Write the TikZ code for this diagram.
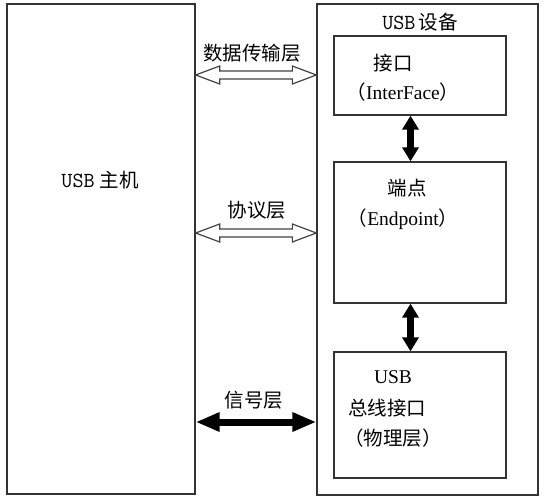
\documentclass[tikz,border=0pt]{standalone}
\usepackage{fontspec}
\setmainfont{Liberation Serif}
\newfontfamily\cjk{Noto Sans CJK SC}
\usetikzlibrary{arrows.meta, calc, positioning}

\tikzset{
  caja/.style={draw=black!80, line width=1.3pt, inner sep=0pt},
  texto/.style={font=\fontsize{19.5}{22}\selectfont, inner sep=1pt},
  flechasolida/.style={line width=7pt, {Triangle[length=24pt,width=18pt]}-{Triangle[length=24pt,width=18pt]}},
  flechavert/.style={line width=6.5pt, {Triangle[length=14pt,width=16pt]}-{Triangle[length=14pt,width=16pt]}},
  flechahueca/.style={draw=black!75, line width=1.2pt, line join=miter}
}
\newcommand{\usbtt}{{\ttfamily\fontsize{21.5}{22}\selectfont USB}}
% flecha hueca entre dos puntos (horizontal)
\newcommand{\flechahueca}[2]{%
  \draw[flechahueca] (#1) -- ++(24,-9) -- ++(0,5) -- ($(#2)+(-24,-4)$) -- ++(0,-5) -- (#2)
    -- ++(-24,9) -- ++(0,-5) -- ($(#1)+(24,4)$) -- ++(0,5) -- cycle;}

\begin{document}
\begin{tikzpicture}[x=1pt,y=-1pt]
        \useasboundingbox (0,0) rectangle (546,500);
        % Host
        \node[caja, minimum width=188pt, minimum height=490pt] (host) at (101,249) {};
        \node[texto] (hostlbl) at (100,180) {\usbtt\ {\cjk 主机}};
        % Dispositivo
        \node[caja, minimum width=221pt, minimum height=491pt] (dev) at (427.5,249.5) {};
        \node[texto] (devlbl) at (420,22) {\usbtt\,{\cjk 设备}};
        \node[caja, minimum width=172pt, minimum height=79pt] (ifc) at (420,75.5) {};
        \node[caja, minimum width=172pt, minimum height=141pt] (ept) at (420,232.5) {};
        \node[caja, minimum width=172pt, minimum height=126pt] (phy) at (420,415) {};
        % Textos de las cajas
        \node[texto] (ifcA) at (393,63) {\cjk 接口};
        \node[texto] (ifcB) at (403,92) {{\cjk （}InterFace{\cjk ）}};
        \node[texto] (eptA) at (407,188) {\cjk 端点};
        \node[texto] (eptB) at (403,219) {{\cjk （}Endpoint{\cjk ）}};
        \node[texto] (phyA) at (393,377) {USB};
        \node[texto] (phyB) at (387,408) {\cjk 总线接口};
        \node[texto] (phyC) at (393,438) {\cjk （物理层）};
        % Flechas verticales
        \draw[flechavert] ([xshift=-9.5pt]ifc.south) -- ([xshift=-9.5pt]ept.north);
        \draw[flechavert] ([xshift=-9.5pt]ept.south) -- ([xshift=-9.5pt]phy.north);
        % Capas
        \coordinate (datL) at (host.east |- 0,75);
        \coordinate (datR) at (dev.west |- 0,75);
        \coordinate (proL) at (host.east |- 0,233);
        \coordinate (proR) at (dev.west |- 0,233);
        \flechahueca{datL}{datR}
        \flechahueca{proL}{proR}
        \draw[flechasolida] (host.east |- 0,422) -- (dev.west |- 0,422);
        \node[texto] (datlbl) at (252,53) {\cjk 数据传输层};
        \node[texto] (prolbl) at (257,210) {\cjk 协议层};
        \node[texto] (siglbl) at (254,400) {\cjk 信号层};
    \end{tikzpicture}
\end{document}
